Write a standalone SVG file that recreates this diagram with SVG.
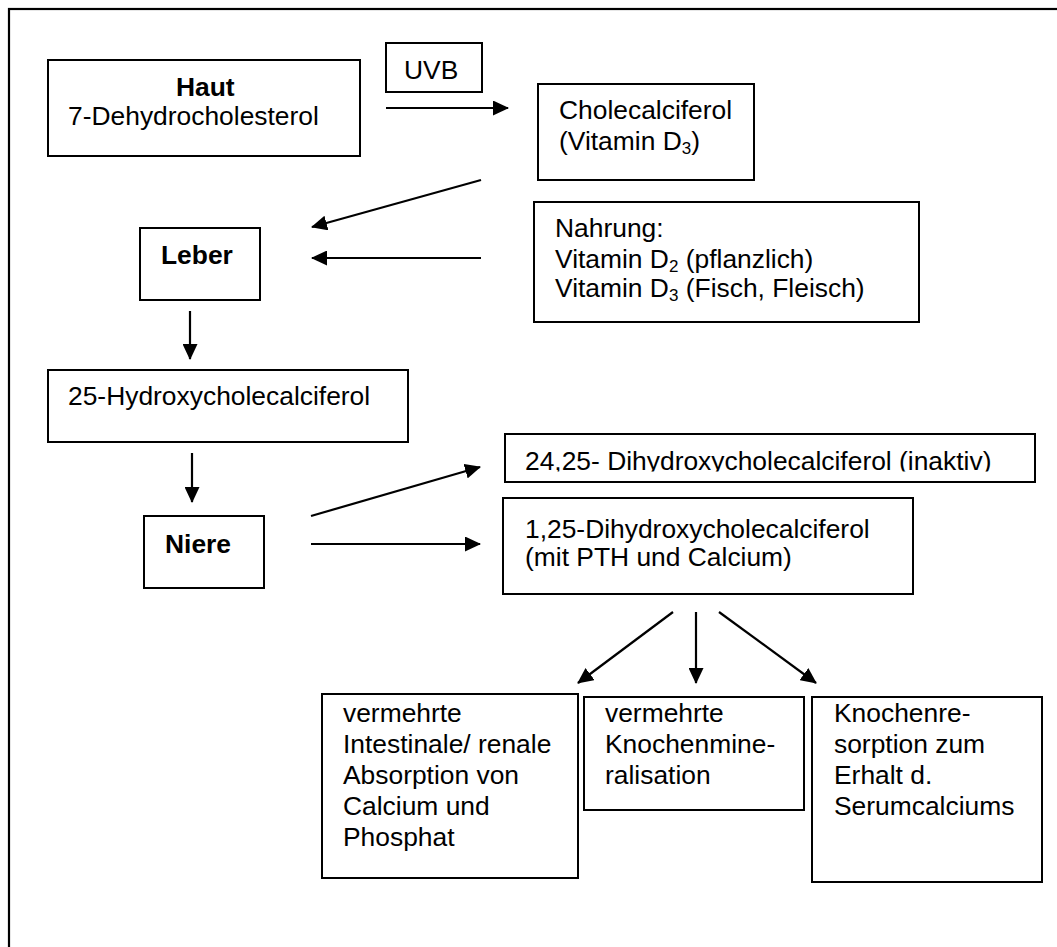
<svg xmlns="http://www.w3.org/2000/svg" width="1057" height="947" viewBox="0 0 1057 947">
  <style>
    .box { fill: #ffffff; stroke: #000000; stroke-width: 2; }
    .t { font-family: "Liberation Sans", Arial, sans-serif; font-size: 26.4px; fill: #000000; }
    .b { font-weight: bold; }
    .sub { font-size: 17px; }
    .conn line { stroke: #000000; stroke-width: 2.2; marker-end: url(#arrow); }
  </style>
  <defs>
    <marker id="arrow" markerUnits="userSpaceOnUse" markerWidth="16" markerHeight="15" refX="15" refY="7.5" orient="auto">
      <path d="M0,0 L16,7.5 L0,15 z" fill="#000000"/>
    </marker>
    <clipPath id="clip2425">
      <rect x="505" y="434" width="530" height="37.5"/>
    </clipPath>
  </defs>
  <rect x="0" y="0" width="1057" height="947" fill="#ffffff"/>
  <rect id="frame" x="9" y="9" width="1080" height="980" fill="none" stroke="#000000" stroke-width="2.2"/>

  <g id="haut">
    <rect class="box" x="48" y="60" width="312" height="96"/>
    <text class="t b" x="176" y="96">Haut</text>
    <text class="t" x="68" y="125">7-Dehydrocholesterol</text>
  </g>
  <g id="uvb">
    <rect class="box" x="386" y="43" width="96" height="49"/>
    <text class="t" x="404" y="79">UVB</text>
  </g>
  <g id="cholecalciferol">
    <rect class="box" x="538" y="84" width="216" height="96"/>
    <text class="t" x="559" y="119">Cholecalciferol</text>
    <text class="t" x="559" y="150">(Vitamin D<tspan class="sub" dy="4">3</tspan><tspan dy="-4">)</tspan></text>
  </g>
  <g id="nahrung">
    <rect class="box" x="534" y="202" width="385" height="120"/>
    <text class="t" x="555" y="237">Nahrung:</text>
    <text class="t" x="555" y="268">Vitamin D<tspan class="sub" dy="4">2</tspan><tspan dy="-4"> (pflanzlich)</tspan></text>
    <text class="t" x="555" y="297">Vitamin D<tspan class="sub" dy="4">3</tspan><tspan dy="-4"> (Fisch, Fleisch)</tspan></text>
  </g>
  <g id="leber">
    <rect class="box" x="140" y="228" width="120" height="72"/>
    <text class="t b" x="161" y="264">Leber</text>
  </g>
  <g id="hydroxy25">
    <rect class="box" x="48" y="370" width="360" height="72"/>
    <text class="t" x="68" y="405">25-Hydroxycholecalciferol</text>
  </g>
  <g id="niere">
    <rect class="box" x="144" y="516" width="120" height="72"/>
    <text class="t b" x="165" y="553">Niere</text>
  </g>
  <g id="dihydroxy2425">
    <rect class="box" x="505" y="434" width="530" height="48"/>
    <text class="t" x="525" y="470" clip-path="url(#clip2425)">24,25- Dihydroxycholecalciferol (inaktiv)</text>
  </g>
  <g id="dihydroxy125">
    <rect class="box" x="503" y="498" width="410" height="96"/>
    <text class="t" x="525" y="538">1,25-Dihydroxycholecalciferol</text>
    <text class="t" x="525" y="566">(mit PTH und Calcium)</text>
  </g>
  <g id="absorption">
    <rect class="box" x="322" y="694" width="256" height="184"/>
    <text class="t" x="343" y="722">vermehrte</text>
    <text class="t" x="343" y="753">Intestinale/ renale</text>
    <text class="t" x="343" y="784">Absorption von</text>
    <text class="t" x="343" y="815">Calcium und</text>
    <text class="t" x="343" y="846">Phosphat</text>
  </g>
  <g id="mineralisation">
    <rect class="box" x="584" y="697" width="220" height="113"/>
    <text class="t" x="605" y="722">vermehrte</text>
    <text class="t" x="605" y="753">Knochenmine-</text>
    <text class="t" x="605" y="784">ralisation</text>
  </g>
  <g id="resorption">
    <rect class="box" x="812" y="697" width="230" height="185"/>
    <text class="t" x="834" y="722">Knochenre-</text>
    <text class="t" x="834" y="753">sorption zum</text>
    <text class="t" x="834" y="784">Erhalt d.</text>
    <text class="t" x="834" y="815">Serumcalciums</text>
  </g>

  <g id="connectors" class="conn">
    <line x1="386" y1="108" x2="508" y2="108"/>
    <line x1="481" y1="180" x2="312" y2="227"/>
    <line x1="481" y1="258" x2="312" y2="258"/>
    <line x1="190" y1="311" x2="190" y2="359"/>
    <line x1="192" y1="453" x2="192" y2="502"/>
    <line x1="311" y1="516" x2="480" y2="467"/>
    <line x1="311" y1="544" x2="480" y2="544"/>
    <line x1="673" y1="612" x2="578" y2="683"/>
    <line x1="696" y1="612" x2="696" y2="683"/>
    <line x1="719" y1="612" x2="816" y2="683"/>
  </g>
</svg>
